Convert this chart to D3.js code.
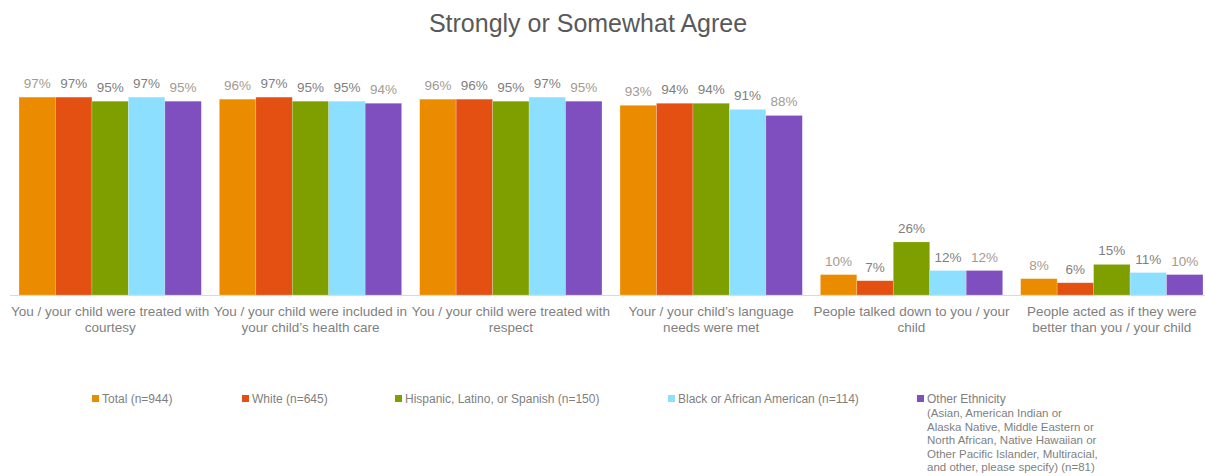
<!DOCTYPE html>
<html lang="en">
<head>
<meta charset="UTF-8">
<title>Strongly or Somewhat Agree</title>
<script src="https://cdnjs.cloudflare.com/ajax/libs/d3/7.8.5/d3.min.js"></script>
<style>
	body { margin: 0; background: #fff; }
	svg { font-family: "Liberation Sans", Arial, sans-serif; }
</style>
</head>
<body>
<svg id="chart" width="1205" height="476"></svg>
<script>
var categories = [
	["You / your child were treated with", "courtesy"],
	["You / your child were included in", "your child\u2019s health care"],
	["You / your child were treated with", "respect"],
	["Your / your child\u2019s language", "needs were met"],
	["People talked down to you / your", "child"],
	["People acted as if they were", "better than you / your child"]
];
var seriesNames = ["Total (n=944)", "White (n=645)", "Hispanic, Latino, or Spanish (n=150)", "Black or African American (n=114)", "Other Ethnicity"];
var otherNote = ["(Asian, American Indian or", "Alaska Native, Middle Eastern or", "North African, Native Hawaiian or", "Other Pacific Islander, Multiracial,", "and other, please specify) (n=81)"];
var total    = [97, 96, 96, 93, 10, 8];
var white    = [97, 97, 96, 94, 7, 6];
var hispanic = [95, 95, 95, 94, 26, 15];
var black    = [97, 95, 97, 91, 12, 11];
var other    = [95, 94, 95, 88, 12, 10];
var colors = ["#eb8c00", "#e35012", "#7f9f00", "#8cdfff", "#7f4fbf"];
var labelColors = ["#a59a90", "#7f7f7f", "#7f7f7f", "#7f7f7f", "#a59a90"];

function draw() {
	var svg = d3.select("#chart");
	var series = [total, white, hispanic, black, other];
	var baseY = 295;

	var scX = d3.scaleBand().domain(d3.range(categories.length)).range([10, 1212]).paddingInner(0.09).paddingOuter(0.045);
	var scInner = d3.scaleBand().domain(d3.range(series.length)).range([0, scX.bandwidth()]);
	var scY = d3.scaleLinear().domain([0, 100]).range([baseY, 91]);

	svg.append("text").attr("x", 588).attr("y", 32).attr("text-anchor", "middle")
		.attr("font-size", 25).attr("fill", "#595959").text("Strongly or Somewhat Agree");

	// axis line
	svg.append("line").attr("x1", 10).attr("x2", 1205).attr("y1", baseY + 0.5).attr("y2", baseY + 0.5)
		.attr("stroke", "#d9d9d9");

	var groups = svg.selectAll("g.grp").data(categories).enter().append("g")
		.attr("class", "grp").attr("transform", (d, i) => `translate(${scX(i)},0)`);

	groups.each(function(c, ci) {
		var g = d3.select(this);
		series.forEach(function(s, si) {
			g.append("rect")
				.attr("x", scInner(si)).attr("width", scInner.bandwidth())
				.attr("y", scY(s[ci])).attr("height", baseY - scY(s[ci]))
				.attr("fill", colors[si]).attr("stroke", "rgba(255,255,255,0.35)").attr("stroke-width", 0.6);
			g.append("text")
				.attr("x", scInner(si) + scInner.bandwidth() / 2).attr("y", scY(s[ci]) - 9)
				.attr("text-anchor", "middle").attr("font-size", 13.5).attr("fill", labelColors[si])
				.text(s[ci] + "%");
		});
		c.forEach(function(line, li) {
			g.append("text").attr("x", scX.bandwidth() / 2).attr("y", 316 + li * 16)
				.attr("text-anchor", "middle").attr("font-size", 13.5).attr("fill", "#7f7f7f").text(line);
		});
	});

	// legend
	var legX = [92, 242, 395, 668, 917];
	var leg = svg.append("g").attr("fill", "#7f7f7f");
	seriesNames.forEach(function(name, i) {
		leg.append("rect").attr("x", legX[i]).attr("y", 395).attr("width", 7).attr("height", 7).attr("fill", colors[i]);
		leg.append("text").attr("x", legX[i] + 10).attr("y", 403).attr("font-size", 12).text(name);
	});
	otherNote.forEach(function(line, i) {
		leg.append("text").attr("x", legX[4] + 10).attr("y", 417 + i * 13.6).attr("font-size", 11.5).text(line);
	});
}
draw();
</script>
</body>
</html>
